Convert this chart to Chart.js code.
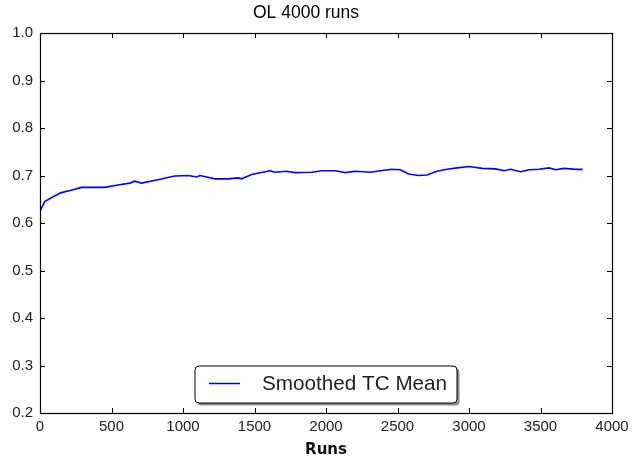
<!DOCTYPE html>
<html>
<head>
<meta charset="utf-8">
<script src="https://cdn.jsdelivr.net/npm/chart.js@4.4.1/dist/chart.umd.min.js"></script>
<style>
html,body{margin:0;padding:0;background:#fff;}
#wrap{width:634px;height:459px;position:relative;}
</style>
</head>
<body>
<div id="wrap"><canvas id="c" width="634" height="459"></canvas></div>
<script>
const titleText = "OL 4000 runs";
const xLabel = "Runs";
const seriesLabel = "Smoothed TC Mean";
const runs = [0, 33, 79, 149, 219, 289, 359, 452, 545, 629, 662, 709, 825, 942, 1037, 1096, 1119, 1224, 1317, 1387, 1410, 1480, 1608, 1643, 1725, 1783, 1900, 1972, 2065, 2135, 2205, 2310, 2380, 2462, 2520, 2578, 2648, 2706, 2776, 2846, 2918, 3000, 3093, 3187, 3245, 3292, 3362, 3420, 3490, 3559, 3606, 3664, 3746, 3795];
const tcMean = [0.625, 0.645, 0.653, 0.664, 0.669, 0.675, 0.675, 0.675, 0.680, 0.684, 0.688, 0.684, 0.691, 0.699, 0.700, 0.697, 0.700, 0.693, 0.693, 0.695, 0.693, 0.702, 0.710, 0.707, 0.709, 0.706, 0.707, 0.710, 0.710, 0.706, 0.709, 0.707, 0.710, 0.713, 0.712, 0.703, 0.700, 0.701, 0.709, 0.713, 0.716, 0.719, 0.715, 0.714, 0.710, 0.713, 0.708, 0.712, 0.713, 0.716, 0.712, 0.715, 0.713, 0.713];
const xTicks = [0, 500, 1000, 1500, 2000, 2500, 3000, 3500, 4000];
const yTicks = [0.2, 0.3, 0.4, 0.5, 0.6, 0.7, 0.8, 0.9, 1.0];

const points = runs.map((r, i) => ({x: r, y: tcMean[i]}));

const frameTicks = {
  id: 'frameTicks',
  afterDatasetsDraw(chart) {
    const {ctx, chartArea: a, scales} = chart;
    ctx.save();
    ctx.strokeStyle = '#000';
    ctx.lineWidth = 1;
    const L = 5;
    ctx.beginPath();
    xTicks.forEach(v => {
      const px = Math.round(scales.x.getPixelForValue(v)) + 0.5;
      ctx.moveTo(px, a.bottom); ctx.lineTo(px, a.bottom - L);
      ctx.moveTo(px, a.top); ctx.lineTo(px, a.top + L);
    });
    yTicks.forEach(v => {
      const py = Math.round(scales.y.getPixelForValue(v)) + 0.5;
      ctx.moveTo(a.left, py); ctx.lineTo(a.left + L, py);
      ctx.moveTo(a.right, py); ctx.lineTo(a.right - L, py);
    });
    ctx.stroke();
    ctx.lineWidth = 1.2;
    ctx.strokeRect(Math.round(a.left) + 0.5, Math.round(a.top) + 0.5, Math.round(a.right - a.left), Math.round(a.bottom - a.top));
    ctx.restore();
  }
};

const innerLegend = {
  id: 'innerLegend',
  afterDraw(chart) {
    const {ctx} = chart;
    const ds = chart.data.datasets[0];
    const bx = 195, by = 366, bw = 262, bh = 37, r = 4;
    ctx.save();
    function rr(x, y) {
      ctx.beginPath();
      ctx.moveTo(x + r, y);
      ctx.lineTo(x + bw - r, y);
      ctx.quadraticCurveTo(x + bw, y, x + bw, y + r);
      ctx.lineTo(x + bw, y + bh - r);
      ctx.quadraticCurveTo(x + bw, y + bh, x + bw - r, y + bh);
      ctx.lineTo(x + r, y + bh);
      ctx.quadraticCurveTo(x, y + bh, x, y + bh - r);
      ctx.lineTo(x, y + r);
      ctx.quadraticCurveTo(x, y, x + r, y);
      ctx.closePath();
    }
    rr(bx + 2.5, by + 2.5);
    ctx.fillStyle = '#8c8c8c';
    ctx.fill();
    rr(bx, by);
    ctx.fillStyle = '#fff';
    ctx.fill();
    ctx.strokeStyle = '#000';
    ctx.lineWidth = 1;
    ctx.stroke();
    ctx.beginPath();
    ctx.strokeStyle = ds.borderColor;
    ctx.lineWidth = 1.5;
    ctx.moveTo(209, 383.5);
    ctx.lineTo(240, 383.5);
    ctx.stroke();
    ctx.fillStyle = '#222';
    ctx.font = '20.7px "Liberation Sans", Arial, sans-serif';
    ctx.textBaseline = 'middle';
    ctx.textAlign = 'left';
    ctx.fillText(ds.label, 262, 384);
    ctx.restore();
  }
};

new Chart(document.getElementById('c'), {
  type: 'line',
  data: {
    datasets: [{
      label: seriesLabel,
      data: points,
      borderColor: '#0000ff',
      borderWidth: 1.6,
      pointRadius: 0,
      tension: 0,
      fill: false
    }]
  },
  options: {
    responsive: false,
    animation: false,
    layout: {padding: {left: 0, right: 22, top: 0, bottom: 0}},
    plugins: {
      legend: {display: false},
      tooltip: {enabled: false},
      title: {
        display: true,
        text: titleText,
        color: '#000',
        font: {family: '"Liberation Sans", Arial, sans-serif', size: 17.5, weight: 'normal', lineHeight: 1.2},
        padding: {top: 3, bottom: 9}
      }
    },
    scales: {
      x: {
        type: 'linear',
        min: 0, max: 4000,
        afterBuildTicks(s) { s.ticks = xTicks.map(v => ({value: v})); },
        afterFit(s) { s.height = 46; },
        grid: {display: false, drawTicks: false},
        border: {display: false},
        ticks: {
          color: '#222', padding: 5, maxRotation: 0,
          font: {family: '"Liberation Sans", Arial, sans-serif', size: 15},
          callback: v => String(v)
        },
        title: {
          display: true, text: xLabel, color: '#111',
          font: {family: '"DejaVu Sans", sans-serif', size: 15, weight: 'bold'},
          padding: {top: 1, bottom: 0}
        }
      },
      y: {
        type: 'linear',
        min: 0.2, max: 1.0,
        afterBuildTicks(s) { s.ticks = yTicks.map(v => ({value: v})); },
        afterFit(s) { s.width = 40; },
        grid: {display: false, drawTicks: false},
        border: {display: false},
        ticks: {
          color: '#222', padding: 7,
          font: {family: '"Liberation Sans", Arial, sans-serif', size: 15},
          callback: v => Number(v).toFixed(1)
        }
      }
    }
  },
  plugins: [frameTicks, innerLegend]
});
</script>
</body>
</html>
